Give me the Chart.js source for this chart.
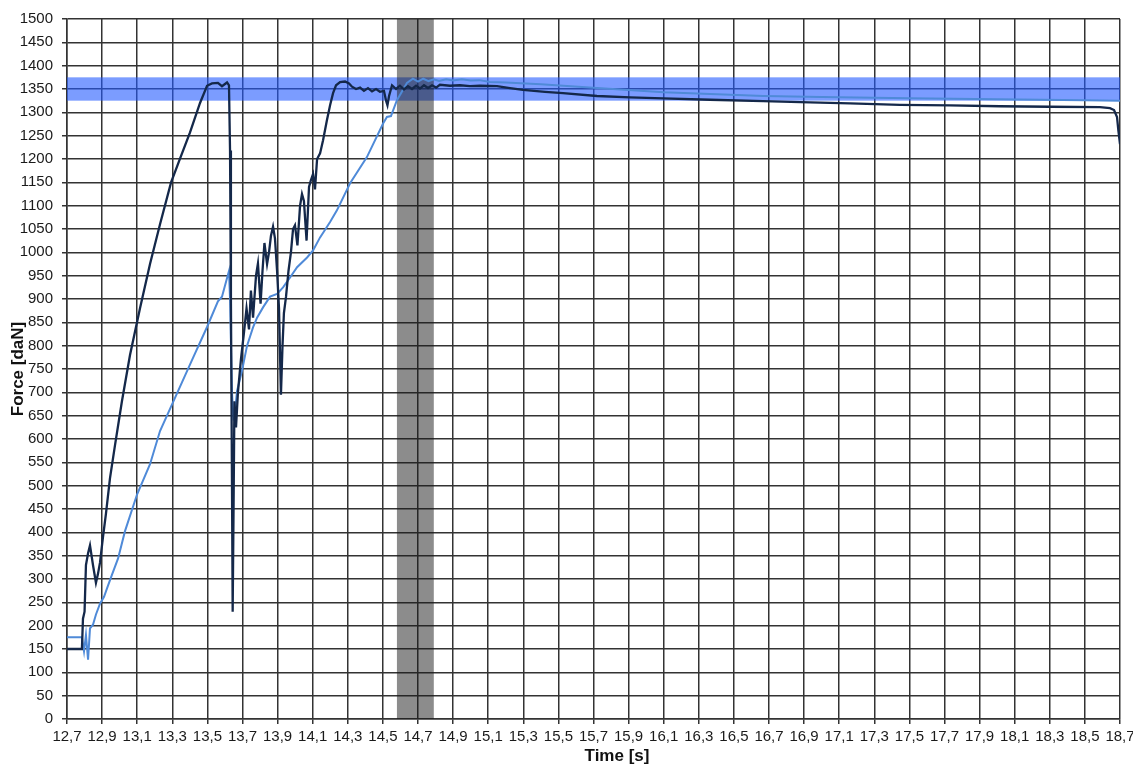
<!DOCTYPE html>
<html>
<head>
<meta charset="utf-8">
<script src="https://cdn.jsdelivr.net/npm/chart.js@4.4.1/dist/chart.umd.min.js"></script>
<style>
  html, body { margin: 0; padding: 0; background: #ffffff; }
  #wrap { width: 1133px; height: 765px; position: relative; }
</style>
</head>
<body>
<div id="wrap"><canvas id="c" width="1133" height="765"></canvas></div>
<script>
// ---- data (time in s, force in daN) ----
const darkTime = [12.700, 12.785, 12.791, 12.800, 12.808, 12.820, 12.831, 12.848, 12.865, 12.876, 12.888, 12.905, 12.922, 12.945, 12.974, 13.013, 13.059, 13.116, 13.173, 13.230, 13.293, 13.344, 13.401, 13.458, 13.498, 13.526, 13.560, 13.583, 13.612, 13.623, 13.629, 13.634, 13.640, 13.644, 13.649, 13.654, 13.663, 13.674, 13.691, 13.709, 13.723, 13.737, 13.748, 13.760, 13.777, 13.788, 13.803, 13.814, 13.825, 13.840, 13.851, 13.862, 13.874, 13.885, 13.897, 13.908, 13.919, 13.928, 13.936, 13.948, 13.962, 13.976, 13.988, 13.999, 14.013, 14.028, 14.039, 14.050, 14.065, 14.079, 14.090, 14.102, 14.113, 14.125, 14.142, 14.159, 14.181, 14.199, 14.216, 14.233, 14.256, 14.284, 14.307, 14.324, 14.347, 14.370, 14.392, 14.415, 14.438, 14.461, 14.483, 14.506, 14.518, 14.526, 14.535, 14.552, 14.575, 14.597, 14.620, 14.643, 14.666, 14.689, 14.711, 14.734, 14.757, 14.780, 14.803, 14.825, 14.882, 14.939, 14.996, 15.053, 15.150, 15.224, 15.298, 15.424, 15.526, 15.720, 15.908, 16.096, 16.364, 16.666, 16.877, 17.162, 17.446, 17.731, 18.016, 18.301, 18.586, 18.643, 18.666, 18.683, 18.691, 18.700];
const darkForce = [150, 150, 215, 230, 330, 355, 372, 330, 292, 310, 335, 390, 440, 516, 588, 681, 780, 880, 975, 1060, 1150, 1201, 1257, 1320, 1357, 1362, 1363, 1356, 1364, 1358, 1218, 898, 511, 230, 450, 681, 625, 700, 770, 830, 880, 835, 918, 860, 950, 976, 890, 960, 1020, 975, 1000, 1035, 1055, 1030, 960, 880, 695, 800, 870, 905, 960, 1000, 1050, 1058, 1015, 1100, 1125, 1110, 1025, 1140, 1155, 1168, 1135, 1200, 1212, 1240, 1283, 1315, 1341, 1358, 1365, 1366, 1362, 1355, 1350, 1353, 1346, 1352, 1345, 1350, 1344, 1346, 1325, 1315, 1335, 1358, 1350, 1357, 1349, 1356, 1350, 1357, 1351, 1358, 1352, 1358, 1353, 1359, 1357, 1358, 1356, 1357, 1356, 1352, 1348, 1344, 1341, 1335, 1332, 1330, 1327, 1324, 1322, 1319, 1316, 1315, 1313, 1312, 1311, 1309, 1305, 1290, 1260, 1232];

const lightTime = [12.700, 12.785, 12.797, 12.808, 12.820, 12.831, 12.848, 12.865, 12.888, 12.911, 12.928, 12.956, 12.991, 13.030, 13.099, 13.173, 13.230, 13.418, 13.498, 13.560, 13.583, 13.612, 13.623, 13.629, 13.640, 13.649, 13.663, 13.669, 13.697, 13.726, 13.760, 13.783, 13.817, 13.857, 13.897, 13.931, 13.971, 14.011, 14.068, 14.102, 14.142, 14.199, 14.238, 14.313, 14.409, 14.501, 14.523, 14.546, 14.580, 14.637, 14.671, 14.700, 14.730, 14.760, 14.790, 14.820, 14.860, 14.900, 14.950, 15.000, 15.050, 15.110, 15.200, 15.400, 15.720, 16.100, 16.670, 17.000, 17.500, 18.000, 18.500, 18.700];
const lightForce = [175, 175, 145, 180, 127, 194, 202, 224, 247, 262, 280, 309, 344, 402, 481, 546, 617, 774, 840, 895, 905, 945, 960, 900, 700, 640, 680, 703, 746, 800, 839, 860, 882, 905, 911, 925, 946, 968, 989, 1004, 1032, 1065, 1090, 1148, 1204, 1276, 1290, 1292, 1326, 1363, 1372, 1366, 1372, 1367, 1371, 1367, 1371, 1368, 1371, 1368, 1369, 1365, 1364, 1360, 1352, 1343, 1335, 1333, 1330, 1328, 1326, 1325];

const xTickValues = [12.7, 12.9, 13.1, 13.3, 13.5, 13.7, 13.9, 14.1, 14.3, 14.5, 14.7, 14.9, 15.1, 15.3, 15.5, 15.7, 15.9, 16.1, 16.3, 16.5, 16.7, 16.9, 17.1, 17.3, 17.5, 17.7, 17.9, 18.1, 18.3, 18.5, 18.7];
const xTickLabels = ['12,7', '12,9', '13,1', '13,3', '13,5', '13,7', '13,9', '14,1', '14,3', '14,5', '14,7', '14,9', '15,1', '15,3', '15,5', '15,7', '15,9', '16,1', '16,3', '16,5', '16,7', '16,9', '17,1', '17,3', '17,5', '17,7', '17,9', '18,1', '18,3', '18,5', '18,7'];
const forceBand = [1325, 1375];
const timeBand = [14.58, 14.79];
const xTitle = 'Time [s]';
const yTitle = 'Force [daN]';

function pairs(xs, ys) { return xs.map((x, i) => ({ x: x, y: ys[i] })); }

const bandsPlugin = {
  id: 'bands',
  beforeDatasetsDraw(chart) {
    const { ctx, chartArea: a, scales: { x, y } } = chart;
    ctx.save();
    ctx.fillStyle = 'rgba(35,90,255,0.6)';
    const yt = y.getPixelForValue(forceBand[1]), yb = y.getPixelForValue(forceBand[0]);
    ctx.fillRect(a.left, yt, a.right - a.left, yb - yt);
    ctx.fillStyle = 'rgba(25,25,25,0.5)';
    const xl = x.getPixelForValue(timeBand[0]), xr = x.getPixelForValue(timeBand[1]);
    ctx.fillRect(xl, a.top, xr - xl, a.bottom - a.top);
    ctx.restore();
  },
  afterDraw(chart) {
    const { ctx } = chart;
    ctx.save();
    ctx.fillStyle = '#111';
    ctx.font = 'bold 17px "Liberation Sans", Arial, sans-serif';
    ctx.textAlign = 'center';
    ctx.textBaseline = 'middle';
    ctx.fillText(xTitle, 617, 756);
    ctx.restore();
  }
};

new Chart(document.getElementById('c'), {
  type: 'line',
  data: {
    datasets: [
      { data: pairs(darkTime, darkForce), borderColor: '#14284a', borderWidth: 2.3, pointRadius: 0, tension: 0, fill: false },
      { data: pairs(lightTime, lightForce), borderColor: '#4f8ad8', borderWidth: 2, pointRadius: 0, tension: 0, fill: false }
    ]
  },
  options: {
    responsive: false,
    animation: false,
    events: [],
    layout: { padding: { top: 19, right: 13, left: 0, bottom: 0 } },
    plugins: { legend: { display: false }, tooltip: { enabled: false }, title: { display: false } },
    scales: {
      x: {
        type: 'linear',
        min: 12.7, max: 18.7,
        afterBuildTicks: (s) => { s.ticks = xTickValues.map(v => ({ value: v })); },
        afterFit: (s) => { s.height = 46; s.paddingRight = 0; s.paddingLeft = 0; },
        ticks: {
          autoSkip: false, maxRotation: 0, padding: 4, color: '#1a1a1a',
          font: { family: '"Liberation Sans", Arial, sans-serif', size: 15 },
          callback: (v, i) => xTickLabels[i]
        },
        grid: { color: '#333', lineWidth: 1.5, tickLength: 5 },
        border: { color: '#333', width: 1.5 }
      },
      y: {
        min: 0, max: 1500,
        afterFit: (s) => { s.width = 67; s.paddingTop = 0; s.paddingBottom = 0; },
        ticks: {
          stepSize: 50, autoSkip: false, padding: 9, color: '#1a1a1a',
          font: { family: '"Liberation Sans", Arial, sans-serif', size: 15 },
          callback: (v) => String(v)
        },
        grid: { color: '#333', lineWidth: 1.5, tickLength: 5 },
        border: { color: '#333', width: 1.5 },
        title: {
          display: true, text: yTitle, color: '#111', padding: { top: 8, bottom: 0 },
          font: { family: '"Liberation Sans", Arial, sans-serif', size: 17, weight: 'bold' }
        }
      }
    }
  },
  plugins: [bandsPlugin]
});
</script>
</body>
</html>
